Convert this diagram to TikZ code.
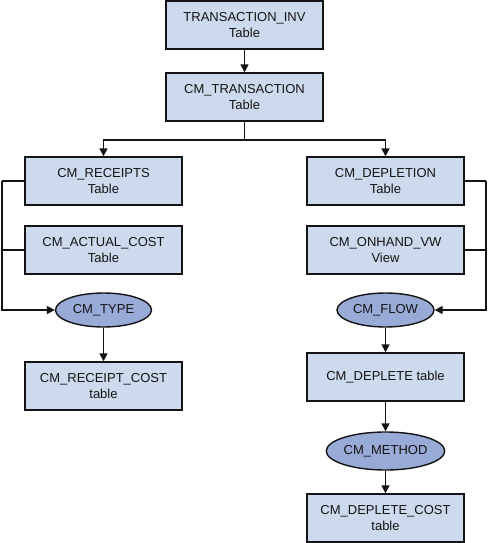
\documentclass[tikz,border=0pt]{standalone}
\usepackage{fontspec}
\setmainfont{Liberation Sans}
\usetikzlibrary{arrows.meta}
\definecolor{boxfill}{RGB}{205,218,237}
\definecolor{ellfill}{RGB}{152,170,214}
\definecolor{ink}{RGB}{20,20,20}
\tikzset{
  tbl/.style={draw=ink, line width=1.4pt, fill=boxfill, minimum width=157pt, minimum height=48pt, inner sep=0pt, align=center, text=ink, font=\fontsize{13}{15.5}\selectfont},
  ell/.style={draw=ink, line width=1.4pt, fill=ellfill, ellipse, inner sep=0pt, align=center, text=ink, font=\fontsize{13}{15.5}\selectfont},
  conn/.style={draw=ink, line width=1.6pt},
  arr/.style={conn, -{Triangle[length=8pt,width=8pt]}}
}
\usetikzlibrary{shapes.geometric}
\begin{document}
\begin{tikzpicture}[x=1pt,y=-1pt]
\useasboundingbox (0,0) rectangle (489,543);
\node[tbl] (inv) at (244.5,25) {TRANSACTION\_INV\\Table};
\node[tbl] (cmt) at (244.5,97) {CM\_TRANSACTION\\Table};
\node[tbl] (rec) at (103.5,181) {CM\_RECEIPTS\\Table};
\node[tbl] (act) at (103.5,250) {CM\_ACTUAL\_COST\\Table};
\node[ell, minimum width=96pt, minimum height=34pt] (type) at (103.5,310) {CM\_TYPE};
\node[tbl] (rcost) at (103.5,386) {CM\_RECEIPT\_COST\\table};
\node[tbl] (dep) at (385.5,181) {CM\_DEPLETION\\Table};
\node[tbl] (onh) at (385.5,250) {CM\_ONHAND\_VW\\View};
\node[ell, minimum width=97pt, minimum height=34pt] (flow) at (385.5,310) {CM\_FLOW};
\node[tbl] (dtab) at (385.5,377) {CM\_DEPLETE table};
\node[ell, minimum width=109pt, minimum height=38pt] (meth) at (385.5,451) {CM\_METHOD};
\node[tbl] (dcost) at (385.5,518) {CM\_DEPLETE\_COST\\table};
\coordinate (split) at (244.5,140);
\coordinate (lx) at (2,0);
\coordinate (rx) at (486,0);
\draw[arr] (inv) -- (cmt);
\draw[conn] (cmt.south) -- (split);
\draw[arr] (split) -| (rec.north);
\draw[arr] (split) -| (dep.north);
\draw[conn] (rec.west) -- (rec.west -| lx);
\draw[conn] (act.west) -- (act.west -| lx);
\draw[arr] (rec.west -| lx) |- (type.west);
\draw[arr] (type) -- (rcost);
\draw[conn] (dep.east) -- (dep.east -| rx);
\draw[conn] (onh.east) -- (onh.east -| rx);
\draw[arr] (dep.east -| rx) |- (flow.east);
\draw[arr] (flow) -- (dtab);
\draw[arr] (dtab) -- (meth);
\draw[arr] (meth) -- (dcost);
\end{tikzpicture}
\end{document}
